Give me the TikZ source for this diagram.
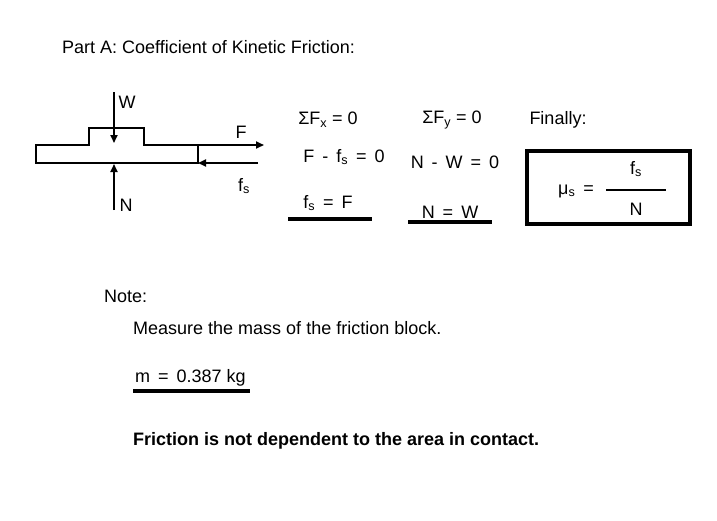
\documentclass[tikz,border=0pt]{standalone}
\usepackage{fontspec}
\setmainfont{Liberation Sans}
\usetikzlibrary{arrows.meta}
\begin{document}
\begin{tikzpicture}[x=1pt,y=-1pt,
  txt/.style={inner sep=0pt,font=\fontsize{18}{20}\selectfont},
  ln/.style={line width=1.6pt},
  thick3/.style={line width=3.5pt},
  frc/.style={line width=1.8pt,-{Triangle[length=8pt,width=7pt]}}]
\useasboundingbox (0,0) rectangle (717,520);
\node[txt,anchor=west] (title) at (62,47) {Part A: Coefficient of Kinetic Friction:};
% body
\draw[ln] (36,145) -- (89,145) -- (89,128) -- (144,128) -- (144,145) -- (198,145) -- (198,163) -- (36,163) -- cycle;
\coordinate (wtop) at (114,92); \coordinate (wend) at (114,143);
\coordinate (nbot) at (114,210); \coordinate (nend) at (114,164);
\coordinate (fst) at (198,145); \coordinate (fend) at (264,145);
\coordinate (sst) at (258,163); \coordinate (send) at (198,163);
\draw[frc] (wtop) -- (wend);
\draw[frc] (nbot) -- (nend);
\draw[frc] (fst) -- (fend);
\draw[frc] (sst) -- (send);
\node[txt] (W) at (127,102) {W};
\node[txt] (N) at (126,205) {N};
\node[txt] (F) at (241,132) {F};
\node[txt] (fs) at (244,186) {f\textsubscript{s}};
% equations
\node[txt] (e1) at (328,120) {ΣF\textsubscript{x} = 0};
\node[txt] (e2) at (452,120) {ΣF\textsubscript{y} = 0};
\node[txt] (fin) at (558,120) {Finally:};
\node[txt] (e3) at (344,157) {F \,-\, f\textsubscript{s} \,=\, 0};
\node[txt] (e4) at (455,162) {N \,-\, W \,=\, 0};
\node[txt] (e5) at (328,203) {f\textsubscript{s} \,=\, F};
\node[txt] (e6) at (450,212) {N \,=\, W};
\draw[thick3] (288,219) -- (372,219);
\draw[thick3] (408,222) -- (492,222);
\draw[line width=3.5pt] (527,151) rectangle (690,224);
\node[txt] (mu) at (576,191) {μ\textsubscript{s} \,=};
\draw[line width=1.8pt] (606,190) -- (666,190);
\node[txt] (fsb) at (636,169) {f\textsubscript{s}};
\node[txt] (Nb) at (636,209) {N};
% notes
\node[txt,anchor=west] (note) at (104,296) {Note:};
\node[txt,anchor=west] (meas) at (133,328) {Measure the mass of the friction block.};
\node[txt,anchor=west] (m) at (135,378) {m \,=\, 0.387 kg};
\draw[thick3] (133,391) -- (250,391);
\node[txt,anchor=west,font=\fontsize{18}{20}\selectfont\bfseries] (fr) at (133,441) {Friction is not dependent to the area in contact.};
\end{tikzpicture}
\end{document}
